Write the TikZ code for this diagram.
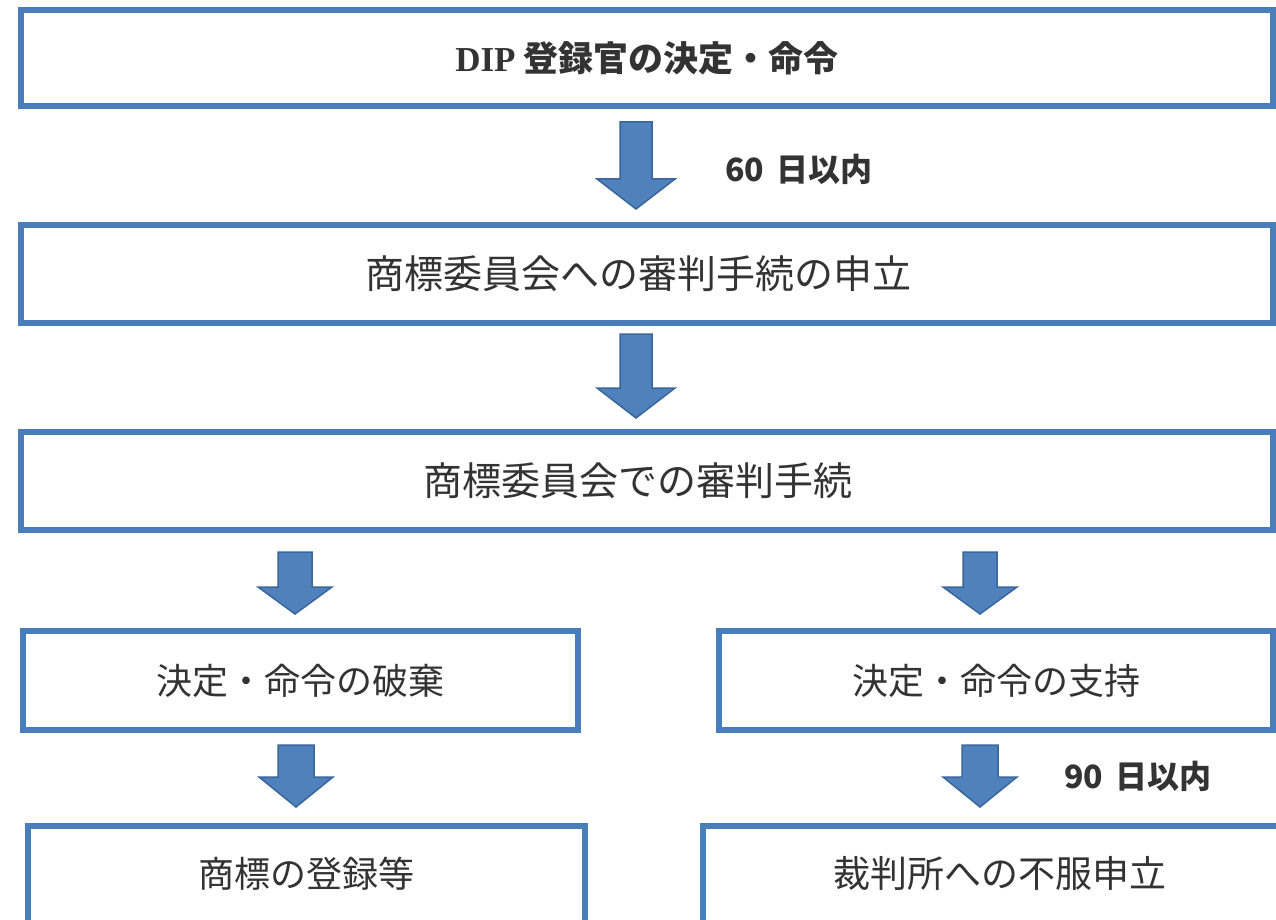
\documentclass[tikz,border=0pt]{standalone}
\usepackage{fontspec}
\setmainfont{Noto Sans CJK JP}
\newfontfamily\latinserif{Liberation Serif}
\usetikzlibrary{calc}
\definecolor{boxblue}{HTML}{4A7EBB}
\definecolor{arrfill}{HTML}{4F81BD}
\definecolor{arrline}{HTML}{3A6699}
\definecolor{txt}{HTML}{333333}
\tikzset{
  box/.style={draw=boxblue, line width=6pt, fill=white, inner sep=0pt, text=txt},
  barrow/.style={fill=arrfill, draw=arrline, line width=1.5pt, line join=miter},
  lbl/.style={text=txt, font=\fontsize{32}{32}\selectfont\bfseries, inner sep=0pt},
}
\newcommand{\blockarrow}[5]{%
  \draw[barrow] let \p1=(#1), \p2=(#2) in
  (\x1-#3,\y1) -- (\x1+#3,\y1) -- (\x1+#3,\y2+#5) -- (\x1+#4,\y2+#5) --
  (\x1,\y2) -- (\x1-#4,\y2+#5) -- (\x1-#3,\y2+#5) -- cycle;}
\begin{document}
\begin{tikzpicture}[x=1pt,y=-1pt]
\useasboundingbox (0,0) rectangle (1276,920);
\clip (0,0) rectangle (1276,920);
\fill[white] (0,0) rectangle (1276,920);

\node[box, minimum width=1252pt, minimum height=96pt,
  font=\fontsize{35}{35}\selectfont\bfseries] (b1) at (647,58) {{\latinserif DIP} 登録官の決定・命令};
\node[box, minimum width=1252pt, minimum height=98pt,
  font=\fontsize{39}{39}\selectfont] (b2) at (647,274) {\hspace*{-17pt}商標委員会への審判手続の申立};
\node[box, minimum width=1252pt, minimum height=98pt,
  font=\fontsize{39}{39}\selectfont] (b3) at (647,481) {\hspace*{-18pt}商標委員会での審判手続};
\node[box, minimum width=555pt, minimum height=99pt,
  font=\fontsize{36}{36}\selectfont] (b4l) at (300.5,680.5) {決定・命令の破棄};
\node[box, minimum width=554pt, minimum height=99pt,
  font=\fontsize{36}{36}\selectfont] (b4r) at (996,680.5) {決定・命令の支持};
\node[box, minimum width=557pt, minimum height=100pt,
  font=\fontsize{36}{36}\selectfont] (b5l) at (306.5,876) {\raisebox{8pt}{商標の登録等}};
\node[box, minimum width=594pt, minimum height=100pt,
  font=\fontsize{37}{37}\selectfont] (b5r) at (1000,876) {\raisebox{8pt}{裁判所への不服申立}};

\coordinate (a1t) at ($(b1.south)+(-11,13)$);
\coordinate (a1b) at ($(b2.north)+(-11,-13)$);
\coordinate (a2t) at ($(b2.south)+(-11,8)$);
\coordinate (a2b) at ($(b3.north)+(-11,-11)$);
\coordinate (a3lt) at ($(b4l.north |- b3.south)+(-5.5,19)$);
\coordinate (a3lb) at ($(b4l.north)+(-5.5,-14)$);
\coordinate (a3rt) at ($(b4r.north |- b3.south)+(-16,19)$);
\coordinate (a3rb) at ($(b4r.north)+(-16,-14)$);
\coordinate (a4lt) at ($(b4l.south)+(-4.5,12)$);
\coordinate (a4lb) at ($(b5l.north)+(-10.5,-16)$);
\coordinate (a4rt) at ($(b4r.south)+(-16,12)$);
\coordinate (a4rb) at ($(b5r.north)+(-20,-16)$);

\blockarrow{a1t}{a1b}{16pt}{39pt}{30pt}
\blockarrow{a2t}{a2b}{16pt}{39pt}{30pt}
\blockarrow{a3lt}{a3lb}{17pt}{37pt}{27pt}
\blockarrow{a3rt}{a3rb}{17pt}{37pt}{27pt}
\blockarrow{a4lt}{a4lb}{18pt}{37pt}{30pt}
\blockarrow{a4rt}{a4rb}{18pt}{37pt}{30pt}

\node[lbl, anchor=west] (l60) at ($(a1t)!0.55!(a1b)+(89,0)$) {60\hspace{12pt}日以内};
\node[lbl, anchor=west] (l90) at ($(a4rt)!0.5!(a4rb)+(84,0)$) {90\hspace{12pt}日以内};
\end{tikzpicture}
\end{document}
